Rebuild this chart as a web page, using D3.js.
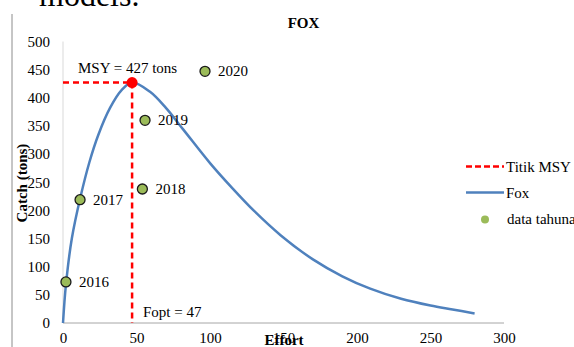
<!DOCTYPE html>
<html><head><meta charset="utf-8">
<script src="https://cdn.jsdelivr.net/npm/d3@7"></script>
<style>body{margin:0;background:#fff;overflow:hidden}text{font-family:"Liberation Serif","Times New Roman",serif}</style>
</head><body>
<svg id="c" width="574" height="347"></svg>
<script>
// Fox model curve (effort, catch)
const foxEffort = [0,2,6,12,18,24,32,40,47,59,70,82,100,115,130,148,170,190,209,230,250,265,280];
const foxCatch  = [0,68,150,225,286,334,382,414,427,411,382,343,284,240,199,156,113,83,61,43,31,24,17];
// annual observed data
const years = ["2016","2017","2018","2019","2020"];
const obsEffort = [2,11.6,54,55.8,96.6];
const obsCatch = [73,219,238,360,447];
// MSY point
const msyEffort = 47, msyCatch = 427;
const xTicks = [0,50,100,150,200,250,300];
const yTicks = [0,50,100,150,200,250,300,350,400,450,500];
const legendLabels = ["Titik MSY","Fox","data tahuna"];

const svg = d3.select("#c");
const x = d3.scaleLinear().domain([0,300]).range([63,504]);
const y = d3.scaleLinear().domain([0,500]).range([323,41.5]);

// page text fragment at top
svg.append("text").attr("x",39).attr("y",6).attr("font-size",32).attr("fill","#000").text("models.");
// left page border line
svg.append("line").attr("x1",12).attr("x2",12).attr("y1",14).attr("y2",347).attr("stroke","#8c8c8c").attr("stroke-width",1);

// title
svg.append("text").attr("x",303.5).attr("y",28).attr("text-anchor","middle").attr("font-weight","bold").attr("font-size",15).text("FOX");

// axes lines
svg.append("line").attr("x1",x(0)).attr("x2",x(0)).attr("y1",y(500)).attr("y2",y(0)).attr("stroke","#d9d9d9").attr("stroke-width",1);
svg.append("line").attr("x1",x(0)).attr("x2",x(300)).attr("y1",y(0)).attr("y2",y(0)).attr("stroke","#a6a6a6").attr("stroke-width",1);

// y ticks via axis generator
const yAx = svg.append("g").attr("transform",`translate(${x(0)},0)`)
  .call(d3.axisLeft(y).tickValues(yTicks).tickSize(0).tickPadding(13).tickFormat(d3.format("d")));
yAx.select(".domain").remove();
yAx.selectAll("text").attr("font-size",15).attr("fill","#000").attr("font-family","Liberation Serif");

const xAx = svg.append("g").attr("transform",`translate(0,${y(0)})`)
  .call(d3.axisBottom(x).tickValues(xTicks).tickSize(0).tickPadding(9).tickFormat(d3.format("d")));
xAx.select(".domain").remove();
xAx.selectAll("text").attr("font-size",15).attr("fill","#000").attr("font-family","Liberation Serif");

// axis titles
svg.append("text").attr("transform","translate(27,183) rotate(-90)").attr("text-anchor","middle")
  .attr("font-weight","bold").attr("font-size",15).text("Catch (tons)");
svg.append("text").attr("x",284).attr("y",345).attr("text-anchor","middle")
  .attr("font-weight","bold").attr("font-size",15).text("Effort");

// Fox curve
const line = d3.line().x((d,i)=>x(foxEffort[i])).y(d=>y(d)).curve(d3.curveCatmullRom.alpha(0.5));
svg.append("path").datum(foxCatch).attr("d",line).attr("fill","none").attr("stroke","#4F81BD").attr("stroke-width",2.5);

// MSY dashed lines
svg.append("line").attr("x1",x(0)).attr("x2",x(msyEffort)).attr("y1",y(msyCatch)).attr("y2",y(msyCatch))
  .attr("stroke","#FF0000").attr("stroke-width",2.5).attr("stroke-dasharray","6,4");
svg.append("line").attr("x1",x(msyEffort)).attr("x2",x(msyEffort)).attr("y1",y(msyCatch)).attr("y2",y(0))
  .attr("stroke","#FF0000").attr("stroke-width",2.5).attr("stroke-dasharray","6,4");
svg.append("circle").attr("cx",x(msyEffort)).attr("cy",y(msyCatch)).attr("r",5.5).attr("fill","#FF0000");

// observed points
years.forEach((yr,i)=>{
  svg.append("circle").attr("cx",x(obsEffort[i])).attr("cy",y(obsCatch[i])).attr("r",5)
    .attr("fill","#9BBB59").attr("stroke","#1a1a1a").attr("stroke-width",1.3);
  svg.append("text").attr("x",x(obsEffort[i])+13).attr("y",y(obsCatch[i])+5).attr("font-size",15).text(yr);
});

// annotations
svg.append("text").attr("x",78).attr("y",73).attr("font-size",15).text("MSY = " + msyCatch + " tons");
svg.append("text").attr("x",143).attr("y",317).attr("font-size",15).text("Fopt = " + msyEffort);

// legend
const lg = svg.append("g");
lg.append("line").attr("x1",466).attr("x2",504).attr("y1",166.5).attr("y2",166.5).attr("stroke","#FF0000").attr("stroke-width",2.5).attr("stroke-dasharray","6,3");
lg.append("text").attr("x",506).attr("y",172).attr("font-size",15).text(legendLabels[0]);
lg.append("line").attr("x1",466).attr("x2",504).attr("y1",192.5).attr("y2",192.5).attr("stroke","#4F81BD").attr("stroke-width",2.5);
lg.append("text").attr("x",506).attr("y",198).attr("font-size",15).text(legendLabels[1]);
lg.append("circle").attr("cx",485).attr("cy",219.5).attr("r",4).attr("fill","#9BBB59");
lg.append("text").attr("x",507).attr("y",224).attr("font-size",15).text(legendLabels[2]);
</script>
</body></html>
